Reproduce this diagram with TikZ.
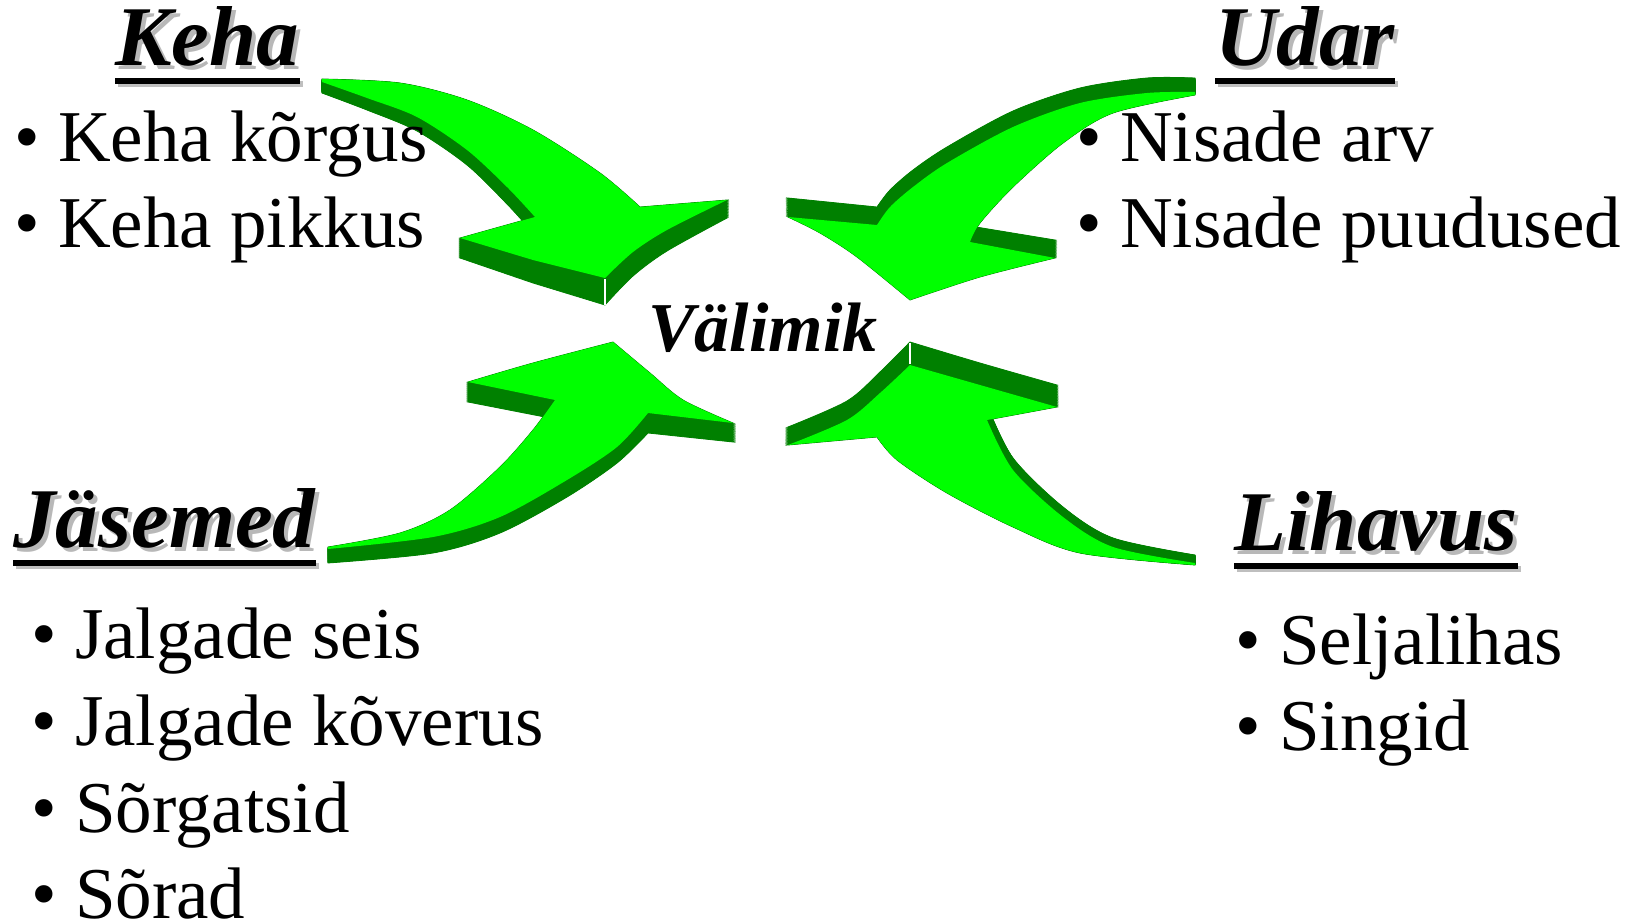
\documentclass[tikz,border=0pt]{standalone}
\usepackage{fontspec}
\setmainfont{Liberation Serif}
\definecolor{lg}{HTML}{00FF00}
\definecolor{dg}{HTML}{008000}
\tikzset{
  ttl/.style={inner sep=0pt, anchor=base west, font=\fontsize{85}{100}\selectfont\bfseries\itshape},
  ttlsh/.style={ttl, text=black!28},
  itm/.style={inner sep=0pt, anchor=base west, font=\fontsize{73}{86}\selectfont},
  uline/.style={line width=6.5pt},
  ulinesh/.style={line width=6.5pt, black!25},
  side/.style={fill=dg, draw=dg, line width=0.8pt},
  face/.style={fill=lg},
  edge/.style={white, line width=1.1pt}
}
\newcommand\bul[1]{\makebox[44pt][l]{\textbullet}#1}
\def\TLpath{(322,{79+\kk*11}) -- plot[smooth] coordinates {(322,{79+\kk*11}) (400,{83+\kk*12}) (467,{100+\kk*13}) (533,{130+\kk*15}) (600,{173+\kk*17}) (640,{207+\kk*18})} -- (727,{200+\kk*18}) -- plot[smooth] coordinates {(727,{200+\kk*18}) (667,{230+\kk*21}) (633,{252+\kk*24}) (605,{278+\kk*27})} -- (533,{260+\kk*23}) -- (460,{238+\kk*20}) -- (535,{217+\kk*18}) -- plot[smooth] coordinates {(535,{217+\kk*18}) (507,{187+\kk*17}) (467,{150+\kk*15}) (417,{117+\kk*14}) (367,{98+\kk*12}) (322,{82+\kk*11})} -- cycle}
\def\TRpath{(1195,{92-\kk*14}) -- plot[smooth] coordinates {(1195,{92-\kk*14}) (1147,{93-\kk*15}) (1080,{103-\kk*15}) (1013,{127-\kk*16}) (947,{163-\kk*16}) (913,{187-\kk*17}) (890,{207-\kk*17}) (877,{225-\kk*18})} -- (788,{217-\kk*19}) -- plot[smooth] coordinates {(788,{217-\kk*19}) (820,{233-\kk*19}) (857,{257-\kk*20}) (910,{300-\kk*20})} -- plot[smooth] coordinates {(910,{300-\kk*20}) (980,{277-\kk*19}) (1055,{258-\kk*18})} -- (970,{242-\kk*16}) -- plot[smooth] coordinates {(970,{242-\kk*16}) (980,{223-\kk*16}) (1013,{187-\kk*15}) (1063,{143-\kk*15}) (1113,{113-\kk*14}) (1195,{95-\kk*14})} -- cycle}
\def\BLpath{(328,{547+\kk*15}) -- plot[smooth] coordinates {(328,{547+\kk*15}) (400,{533+\kk*16}) (450,{510+\kk*16}) (500,{467+\kk*17}) (533,{430+\kk*18}) (555,{400+\kk*19})} -- (468,{382+\kk*20}) -- plot[smooth] coordinates {(468,{382+\kk*20}) (533,{363+\kk*20}) (613,{342+\kk*20})} -- plot[smooth] coordinates {(613,{342+\kk*20}) (650,{373+\kk*20}) (683,{400+\kk*20}) (733,{423+\kk*19})} -- (648,{413+\kk*20}) -- plot[smooth] coordinates {(648,{413+\kk*20}) (617,{447+\kk*16}) (567,{480+\kk*17}) (500,{517+\kk*16}) (433,{537+\kk*16}) (328,{549+\kk*14})} -- cycle}
\def\BRpath{(910,{365-\kk*23}) -- plot[smooth] coordinates {(910,{365-\kk*23}) (880,{393-\kk*21}) (847,{420-\kk*19}) (788,{445-\kk*18})} -- (877,{437-\kk*18}) -- plot[smooth] coordinates {(877,{437-\kk*18}) (897,{460-\kk*16}) (947,{493-\kk*13}) (1013,{527-\kk*11}) (1080,{553-\kk*9}) (1195,{565-\kk*8})} -- (1195,{563-\kk*8}) -- plot[smooth] coordinates {(1195,{563-\kk*8}) (1113,{547-\kk*9}) (1063,{517-\kk*10}) (1013,{470-\kk*12}) (987,{420-\kk*15})} -- (1057,{407-\kk*22}) -- plot[smooth] coordinates {(1057,{407-\kk*22}) (980,{385-\kk*22}) (910,{365-\kk*23})} -- cycle}
\begin{document}
\begin{tikzpicture}[x=1pt,y=-1pt]
\useasboundingbox (0,0) rectangle (1626,924);
\fill[white] (0,0) rectangle (1626,924);
% arrows: extruded sides
\foreach \i in {0,...,30}{\pgfmathsetmacro\kk{\i/30}
  \path[side] \TLpath; \path[side] \TRpath; \path[side] \BLpath; \path[side] \BRpath;}
\def\kk{0}
\path[face] \TLpath; \path[face] \TRpath; \path[face] \BLpath; \path[face] \BRpath;
\coordinate (tla) at (605,279); \coordinate (tlb) at (605,305);
\draw[edge] (tla) -- (tlb);
\coordinate (bra) at (910,343); \coordinate (brb) at (910,364);
\draw[edge] (bra) -- (brb);
% titles
\node[ttlsh] at (119,69) {Keha};
\node[ttl] (keha) at (115,65) {Keha};
\node[ttlsh] at (1219,69) {Udar};
\node[ttl] (udar) at (1215,65) {Udar};
\node[ttlsh] at (17,551) {Jäsemed};
\node[ttl] (jas) at (13,547) {Jäsemed};
\node[ttlsh] at (1238,554) {Lihavus};
\node[ttl] (liha) at (1234,550) {Lihavus};
\foreach \n in {keha,udar,jas,liha}{
  \draw[ulinesh] ([xshift=3pt,yshift=-19pt]\n.base west) -- ([xshift=3pt,yshift=-19pt]\n.base east);
  \draw[uline] ([yshift=-16pt]\n.base west) -- ([yshift=-16pt]\n.base east);}
\node[inner sep=0pt, anchor=base west, font=\fontsize{70}{84}\selectfont\bfseries\itshape] (val) at (648,351) {Välimik};
% items
\node[itm] (k1) at (14,161) {\bul{Keha kõrgus}};
\node[itm] (k2) at (14,247) {\bul{Keha pikkus}};
\node[itm] (u1) at (1076,161) {\bul{Nisade arv}};
\node[itm] (u2) at (1076,247) {\bul{Nisade puudused}};
\node[itm] (j1) at (31,658) {\bul{Jalgade seis}};
\node[itm] (j2) at (31,745) {\bul{Jalgade kõverus}};
\node[itm] (j3) at (31,832) {\bul{Sõrgatsid}};
\node[itm] (j4) at (31,918) {\bul{Sõrad}};
\node[itm] (l1) at (1235,664) {\bul{Seljalihas}};
\node[itm] (l2) at (1235,750) {\bul{Singid}};
\end{tikzpicture}
\end{document}
